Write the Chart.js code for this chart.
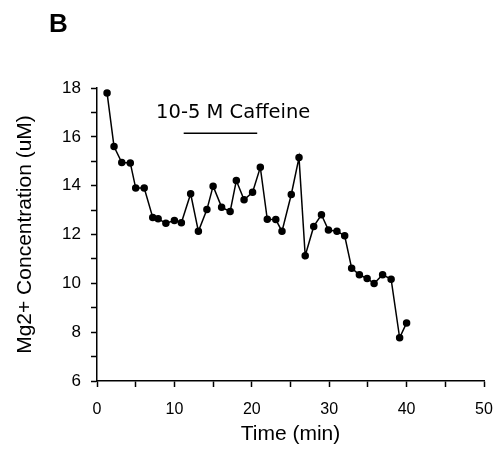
<!DOCTYPE html>
<html>
<head>
<meta charset="utf-8">
<script src="https://cdn.jsdelivr.net/npm/chart.js@4"></script>
<style>
  body { margin: 0; background: #fff; }
  #wrap { width: 502px; height: 452px; }
</style>
</head>
<body>
<div id="wrap"><canvas id="mgChart" width="502" height="452"></canvas></div>
<script>
// values
const timeMin = [1.3, 2.2, 3.2, 4.3, 5.0, 6.1, 7.2, 7.9, 8.9, 10.0,
                 10.9, 12.1, 13.1, 14.2, 15.0, 16.1, 17.2, 18.0, 19.0, 20.1,
                 21.1, 22.0, 23.1, 23.9, 25.1, 26.1, 26.9, 28.0, 29.0, 29.9,
                 31.0, 32.0, 32.9, 33.9, 34.9, 35.8, 36.9, 38.0, 39.1, 40.0];
const mgConc = [17.8, 15.6, 14.95, 14.93, 13.9, 13.9, 12.7, 12.64, 12.46, 12.57,
                12.48, 13.67, 12.13, 13.02, 13.98, 13.12, 12.94, 14.21, 13.42, 13.73,
                14.75, 12.62, 12.61, 12.13, 13.64, 15.15, 11.13, 12.33, 12.81, 12.18,
                12.13, 11.95, 10.62, 10.35, 10.2, 9.99, 10.35, 10.17, 7.77, 8.38];
const xTicks = [0, 10, 20, 30, 40, 50];
const yTicks = [6, 8, 10, 12, 14, 16, 18];
const caffeineStart = 11.2, caffeineEnd = 20.7, caffeineLevel = 16.15;
const caffeineLabel = '10-5 M Caffeine';

const ctx = document.getElementById('mgChart').getContext('2d');

// "B" panel letter and the caffeine bar
const annotations = {
    id: 'annotations',
    afterDraw(chart) {
        const c = chart.ctx;
        const xs = chart.scales.x, ys = chart.scales.y;
        c.save();
        c.fillStyle = '#000';
        c.font = 'bold 26px "Liberation Sans", Arial, sans-serif';
        c.textAlign = 'left';
        c.textBaseline = 'alphabetic';
        c.fillText('B', 49, 32);

        c.strokeStyle = '#000';
        c.lineWidth = 1.5;
        c.beginPath();
        c.moveTo(xs.getPixelForValue(caffeineStart), ys.getPixelForValue(caffeineLevel));
        c.lineTo(xs.getPixelForValue(caffeineEnd), ys.getPixelForValue(caffeineLevel));
        c.stroke();

        c.font = '19.5px "DejaVu Sans", sans-serif';
        c.textAlign = 'center';
        c.textBaseline = 'middle';
        c.fillText(caffeineLabel, xs.getPixelForValue(17.6), ys.getPixelForValue(16.97));
        c.restore();
    }
};

const chart = new Chart(ctx, {
    type: 'scatter',
    data: {
        datasets: [{
            data: timeMin.map((t, i) => ({ x: t, y: mgConc[i] })),
            showLine: true,
            borderColor: '#000',
            backgroundColor: '#000',
            borderWidth: 1.5,
            pointRadius: 3,
            pointHoverRadius: 3,
            tension: 0
        }]
    },
    options: {
        responsive: false,
        animation: false,
        layout: { padding: { top: 88, right: 18, left: 0, bottom: 0 } },
        plugins: {
            legend: { display: false },
            tooltip: { enabled: false }
        },
        scales: {
            x: {
                type: 'linear',
                min: 0, max: 50,
                afterBuildTicks(scale) {
                    const t = [];
                    for (let v = 0; v <= 50; v += 5) t.push({ value: v });
                    scale.ticks = t;
                },
                afterFit(scale) {
                    scale.height = 452 - 381;
                    scale.paddingLeft = 0;
                    scale.paddingRight = 0;
                },
                ticks: {
                    color: '#000',
                    font: { family: '"Liberation Sans", Arial, sans-serif', size: 16 },
                    padding: 13,
                    maxRotation: 0,
                    autoSkip: false,
                    callback: v => xTicks.includes(v) ? v : ''
                },
                grid: { drawOnChartArea: false, color: '#000', tickLength: 6, tickWidth: 1.5 },
                border: { color: '#000', width: 1.5 },
                title: {
                    display: true,
                    text: 'Time (min)',
                    color: '#000',
                    font: { family: '"Liberation Sans", Arial, sans-serif', size: 21 },
                    padding: { top: 0, bottom: 5 }
                }
            },
            y: {
                type: 'linear',
                min: 6, max: 18,
                afterBuildTicks(scale) {
                    const t = [];
                    for (let v = 6; v <= 18; v += 1) t.push({ value: v });
                    scale.ticks = t;
                },
                afterFit(scale) { scale.width = 97; },
                ticks: {
                    color: '#000',
                    font: { family: '"Liberation Sans", Arial, sans-serif', size: 17 },
                    padding: 10,
                    autoSkip: false,
                    callback: v => yTicks.includes(v) ? v : ''
                },
                grid: { drawOnChartArea: false, color: '#000', tickLength: 6, tickWidth: 1.5 },
                border: { color: '#000', width: 1.5 },
                title: {
                    display: true,
                    text: 'Mg2+ Concentration (uM)',
                    color: '#000',
                    font: { family: '"Liberation Sans", Arial, sans-serif', size: 21 },
                    padding: { top: 13, bottom: 0 }
                }
            }
        }
    },
    plugins: [annotations]
});
</script>
</body>
</html>
